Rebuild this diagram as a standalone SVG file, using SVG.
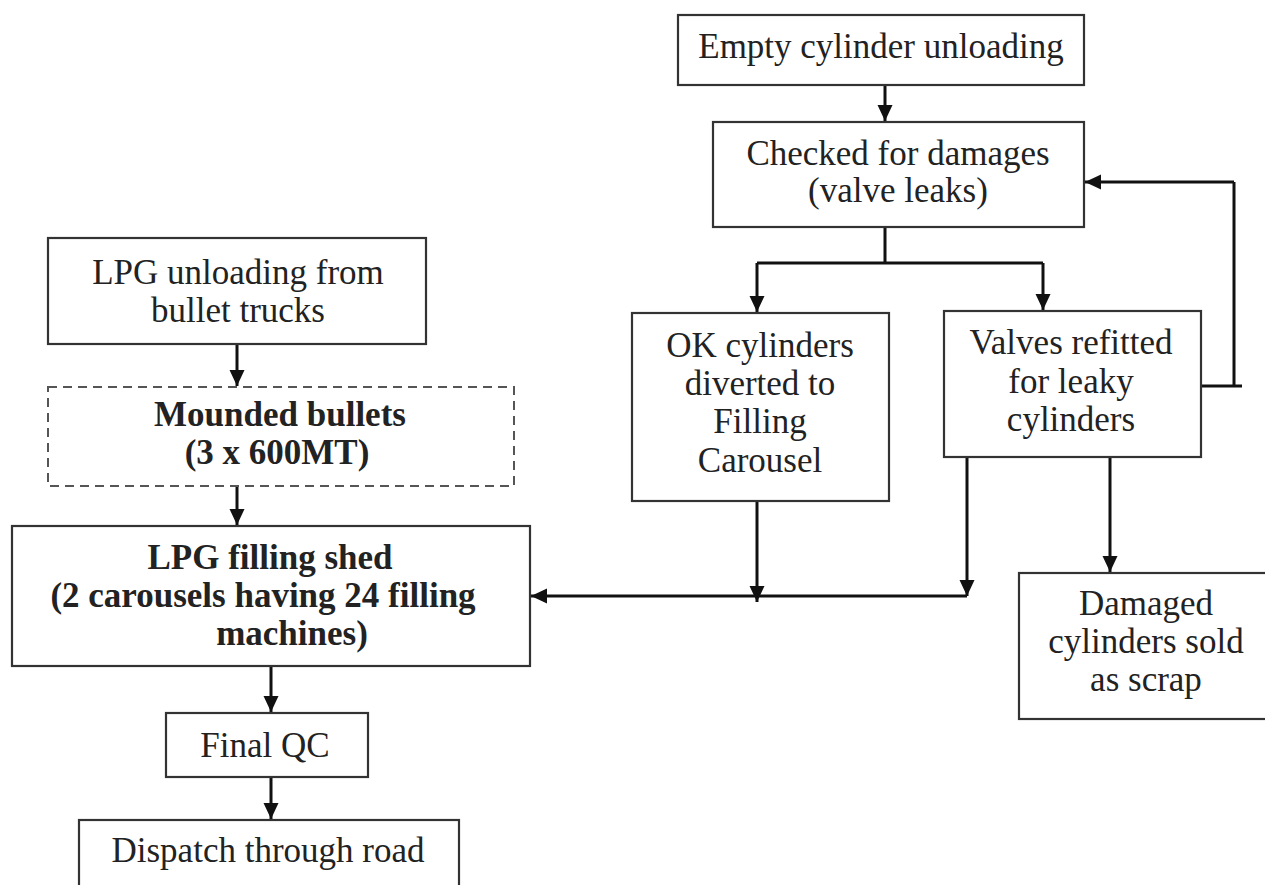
<svg xmlns="http://www.w3.org/2000/svg" width="1265" height="885" viewBox="0 0 1265 885">
<style>
.box{fill:#fff;stroke:#333;stroke-width:2.2}
.dash{fill:#fff;stroke:#555;stroke-width:2;stroke-dasharray:9 6}
.t{font-family:"Liberation Serif","Times New Roman",serif;font-size:35px;fill:#222;text-anchor:middle}
.b{font-weight:bold}
.ln{fill:none;stroke:#111;stroke-width:3}
</style>
<defs>
<marker id="ah" markerUnits="userSpaceOnUse" markerWidth="18" markerHeight="18" viewBox="0 0 18 18" refX="17" refY="9" orient="auto">
<path d="M1,1.5 L17,9 L1,16.5 Z" fill="#111"/>
</marker>
</defs>
<rect width="1265" height="885" fill="#fff"/>

<g id="connectors">
<line class="ln" x1="885" y1="85" x2="885" y2="121" marker-end="url(#ah)"/>
<path class="ln" d="M885,227 V263 M757,263 H1043"/>
<line class="ln" x1="757" y1="263" x2="757" y2="312" marker-end="url(#ah)"/>
<line class="ln" x1="1043" y1="263" x2="1043" y2="310" marker-end="url(#ah)"/>
<path class="ln" d="M1201,386 H1242 M1234,386 V182"/>
<line class="ln" x1="1234" y1="182" x2="1085" y2="182" marker-end="url(#ah)"/>
<line class="ln" x1="757" y1="501" x2="757" y2="602" marker-end="url(#ah)"/>
<line class="ln" x1="967" y1="457" x2="967" y2="596" marker-end="url(#ah)"/>
<line class="ln" x1="967" y1="596" x2="531" y2="596" marker-end="url(#ah)"/>
<line class="ln" x1="1110" y1="457" x2="1110" y2="572" marker-end="url(#ah)"/>
<line class="ln" x1="237" y1="344" x2="237" y2="386" marker-end="url(#ah)"/>
<line class="ln" x1="237" y1="487" x2="237" y2="525" marker-end="url(#ah)"/>
<line class="ln" x1="271" y1="666" x2="271" y2="712" marker-end="url(#ah)"/>
<line class="ln" x1="271" y1="777" x2="271" y2="819" marker-end="url(#ah)"/>
</g>

<g id="empty">
<rect class="box" x="678" y="15" width="406" height="70"/>
<text class="t" x="881" y="58">Empty cylinder unloading</text>
</g>
<g id="checked">
<rect class="box" x="713" y="122" width="371" height="105"/>
<text class="t" x="898" y="165">Checked for damages</text>
<text class="t" x="898" y="202">(valve leaks)</text>
</g>
<g id="ok">
<rect class="box" x="632" y="313" width="257" height="188"/>
<text class="t" x="760" y="357">OK cylinders</text>
<text class="t" x="760" y="395">diverted to</text>
<text class="t" x="760" y="433">Filling</text>
<text class="t" x="760" y="472">Carousel</text>
</g>
<g id="valves">
<rect class="box" x="944" y="311" width="257" height="146"/>
<text class="t" x="1071" y="354">Valves refitted</text>
<text class="t" x="1071" y="393">for leaky</text>
<text class="t" x="1071" y="431">cylinders</text>
</g>
<g id="damaged">
<rect class="box" x="1019" y="573" width="260" height="146"/>
<text class="t" x="1146" y="615">Damaged</text>
<text class="t" x="1146" y="653">cylinders sold</text>
<text class="t" x="1146" y="691">as scrap</text>
</g>
<g id="lpg-unloading">
<rect class="box" x="48" y="238" width="378" height="106"/>
<text class="t" x="238" y="284">LPG unloading from</text>
<text class="t" x="238" y="322">bullet trucks</text>
</g>
<g id="mounded">
<rect class="dash" x="48" y="387" width="466" height="99"/>
<text class="t b" x="280" y="426">Mounded bullets</text>
<text class="t b" x="277" y="464">(3 x 600MT)</text>
</g>
<g id="filling-shed">
<rect class="box" x="12" y="526" width="518" height="140"/>
<text class="t b" x="270" y="569">LPG filling shed</text>
<text class="t b" x="263" y="607">(2 carousels having 24 filling</text>
<text class="t b" x="292" y="645">machines)</text>
</g>
<g id="final-qc">
<rect class="box" x="166" y="713" width="202" height="64"/>
<text class="t" x="265" y="757">Final QC</text>
</g>
<g id="dispatch">
<rect class="box" x="79" y="820" width="380" height="80"/>
<text class="t" x="268" y="862">Dispatch through road</text>
</g>
</svg>
